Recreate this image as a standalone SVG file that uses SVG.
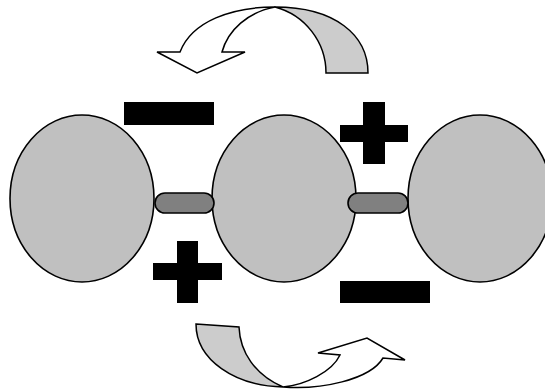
<svg xmlns="http://www.w3.org/2000/svg" width="545" height="391" viewBox="0 0 545 391">
  <style>
    .ball { fill: #c0c0c0; stroke: #000; stroke-width: 1.6; }
    .link { fill: #808080; stroke: #000; stroke-width: 1.6; }
    .sign { fill: #000; stroke: none; }
    .arrow-front { fill: #fff; stroke: #000; stroke-width: 1.5; stroke-linejoin: miter; }
    .arrow-back { fill: #cccccc; stroke: #000; stroke-width: 1.5; stroke-linejoin: miter; }
  </style>
  <rect width="545" height="391" fill="#fff"/>
  <g id="ball1"><ellipse class="ball" cx="82" cy="198.5" rx="72" ry="83.5"/></g>
  <g id="ball2"><ellipse class="ball" cx="284" cy="198.5" rx="72" ry="83.5"/></g>
  <g id="ball3"><ellipse class="ball" cx="480" cy="198.5" rx="72" ry="83.5"/></g>
  <g id="connectors">
    <rect id="link1" class="link" x="155" y="193" width="59" height="20" rx="10"/>
    <rect id="link2" class="link" x="348" y="193" width="60" height="20" rx="10"/>
  </g>
  <g id="minus-top">
    <rect class="sign" x="124" y="102" width="90" height="23"/>
  </g>
  <g id="plus-bottom">
    <rect class="sign" x="177" y="241" width="21" height="62"/>
    <rect class="sign" x="153" y="263" width="69" height="17"/>
  </g>
  <g id="plus-top">
    <rect class="sign" x="363" y="102" width="22" height="62"/>
    <rect class="sign" x="340" y="125" width="68" height="17"/>
  </g>
  <g id="minus-bottom">
    <rect class="sign" x="340" y="281" width="90" height="22"/>
  </g>
  <g id="arrow-top">
    <path class="arrow-back" d="M275,7 C335,7 368,35 368,73 L326,73 C326,42 305,15 275,7 Z"/>
    <path class="arrow-front" d="M157,52 L180,52 C192,21 232,7 275,7 C248,12 228,30 222,52 L245,52 L197,73 Z"/>
  </g>
  <g id="arrow-bottom">
    <path class="arrow-back" d="M196,324 L239,327 C240,352 255,375 283,387 C235,386 196,360 196,324 Z"/>
    <path class="arrow-front" d="M283,387 C320,390 370,380 383,358 L405,360 L367,338 L318,353 L340,355 C332,372 305,385 283,387 Z"/>
  </g>
</svg>
